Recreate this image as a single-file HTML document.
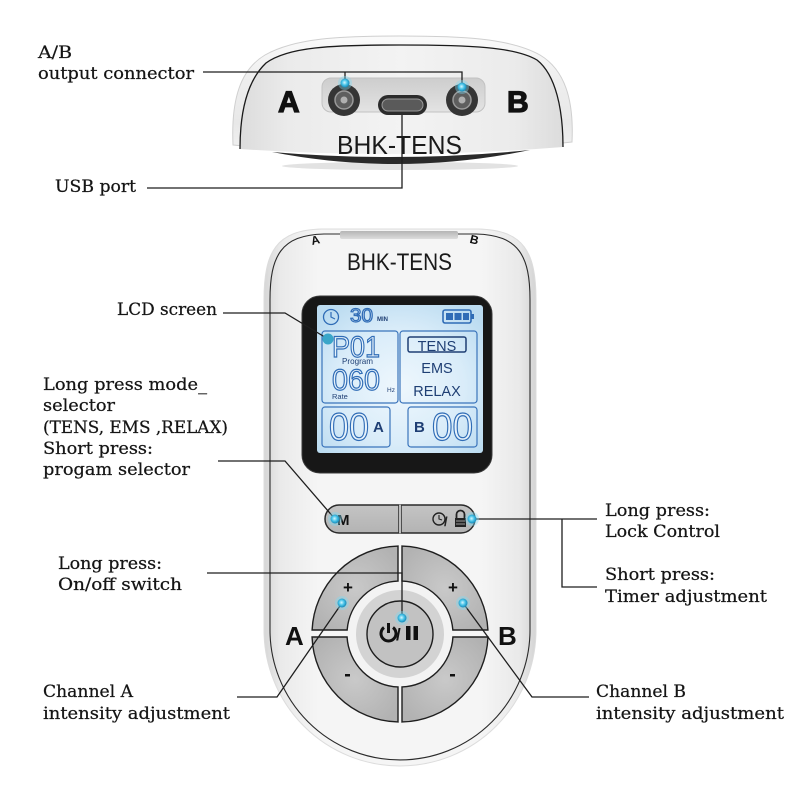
<!DOCTYPE html>
<html><head><meta charset="utf-8"><style>
html,body{margin:0;padding:0;background:#fff;}
svg{display:block;}
.lb{font-family:"DejaVu Serif","Liberation Serif",serif;font-size:17px;fill:#151515;stroke:#151515;stroke-width:0.25;}
.ln{fill:none;stroke:#1e1e1e;stroke-width:1.3;}
.lcd{font-family:"Liberation Sans",sans-serif;fill:#e6f2fb;stroke:#2f6cb6;stroke-width:1.2;}
.lt{font-family:"Liberation Sans",sans-serif;fill:#1f3f74;}
</style></head><body>
<svg width="800" height="800" viewBox="0 0 800 800" xmlns="http://www.w3.org/2000/svg">
<defs>
<linearGradient id="topg" x1="0" y1="0" x2="0" y2="1"><stop offset="0" stop-color="#fbfbfb"/><stop offset="0.35" stop-color="#efefef"/><stop offset="0.75" stop-color="#e8e8e8"/><stop offset="1" stop-color="#f2f2f2"/></linearGradient>
<linearGradient id="faceg" x1="0" y1="0" x2="1" y2="0"><stop offset="0" stop-color="#dcdcdc"/><stop offset="0.15" stop-color="#ebebeb"/><stop offset="0.5" stop-color="#f3f3f3"/><stop offset="0.85" stop-color="#ebebeb"/><stop offset="1" stop-color="#dcdcdc"/></linearGradient>
<linearGradient id="recg" x1="0" y1="0" x2="0" y2="1"><stop offset="0" stop-color="#cdcdcd"/><stop offset="1" stop-color="#e3e3e3"/></linearGradient>
<linearGradient id="bodyg" x1="0" y1="0" x2="1" y2="0"><stop offset="0" stop-color="#d6d6d6"/><stop offset="0.06" stop-color="#eaeaea"/><stop offset="0.2" stop-color="#f5f5f5"/><stop offset="0.8" stop-color="#f5f5f5"/><stop offset="0.94" stop-color="#e9e9e9"/><stop offset="1" stop-color="#d4d4d4"/></linearGradient>
<linearGradient id="slotg" x1="0" y1="0" x2="0" y2="1"><stop offset="0" stop-color="#b5b5b5"/><stop offset="1" stop-color="#dcdcdc"/></linearGradient>
<radialGradient id="scr" cx="0.5" cy="0.55" r="0.65"><stop offset="0" stop-color="#eef7fd"/><stop offset="0.6" stop-color="#d9ecf9"/><stop offset="1" stop-color="#bcdcf1"/></radialGradient>
<linearGradient id="btng" x1="0" y1="0" x2="0" y2="1"><stop offset="0" stop-color="#c4c4c4"/><stop offset="1" stop-color="#b3b3b3"/></linearGradient>
<radialGradient id="quadg" cx="0.5" cy="0.5" r="0.6"><stop offset="0" stop-color="#c9c9c9"/><stop offset="1" stop-color="#b2b2b2"/></radialGradient>
<radialGradient id="dotg" cx="0.45" cy="0.45" r="0.55"><stop offset="0" stop-color="#d8f7ff"/><stop offset="0.5" stop-color="#4cc6ea"/><stop offset="1" stop-color="#1589b8"/></radialGradient>
</defs>
<rect width="800" height="800" fill="#fff"/>

<!-- ===== TOP DEVICE (end view) ===== -->
<ellipse cx="400" cy="166" rx="118" ry="4" fill="#e2e2e2"/>
<path d="M 272,152 Q 400,177 530,150 Q 400,163 272,152 Z" fill="#2a2a2a"/>
<path d="M 233,145 C 231,100 240,70 265,55 C 295,38 340,36 400,36 C 460,36 510,38 540,55 C 565,70 574,100 572,142 Q 402,162 233,145 Z" fill="url(#topg)" stroke="#cfcfcf" stroke-width="1"/>
<path d="M 240,149 C 240,110 248,80 266,63 C 288,47 330,45 400,45 C 470,45 515,47 537,60 C 556,75 563,110 563,147 Q 402,160 240,149 Z" fill="url(#faceg)"/>
<path d="M 240,149 C 240,110 248,80 266,63 C 288,47 330,45 400,45 C 470,45 515,47 537,60 C 556,75 563,110 563,147" fill="none" stroke="#1a1a1a" stroke-width="1.3"/>
<rect x="322" y="78" width="163" height="34" rx="9" fill="url(#recg)" stroke="#c2c2c2"/>
<circle cx="344" cy="100" r="16" fill="#353535"/>
<circle cx="344" cy="100" r="9" fill="#5e5e5e" stroke="#9a9a9a" stroke-width="1.5"/>
<circle cx="344" cy="100" r="3.5" fill="#b0b0b0"/>
<circle cx="462" cy="100" r="16" fill="#353535"/>
<circle cx="462" cy="100" r="9" fill="#5e5e5e" stroke="#9a9a9a" stroke-width="1.5"/>
<circle cx="462" cy="100" r="3.5" fill="#b0b0b0"/>
<rect x="378" y="95" width="49" height="20" rx="10" fill="#2c2c2c"/>
<rect x="382" y="99" width="41" height="12" rx="6" fill="#5a5a5a" stroke="#9b9b9b" stroke-width="1"/>
<text x="278" y="112" font-family="Liberation Sans,sans-serif" font-weight="bold" font-size="30" fill="#111" stroke="#111" stroke-width="1.2">A</text>
<text x="507" y="112" font-family="Liberation Sans,sans-serif" font-weight="bold" font-size="30" fill="#111" stroke="#111" stroke-width="1.2">B</text>
<text x="337" y="154" font-family="Liberation Sans,sans-serif" font-size="26" fill="#1a1a1a" textLength="125" lengthAdjust="spacingAndGlyphs">BHK-TENS</text>

<!-- ===== MAIN BODY ===== -->
<path d="M 264,300 C 264,252 276,230 322,229 L 478,229 C 524,230 536,252 536,300 L 536,630 A 136,136 0 0 1 264,630 Z" fill="url(#bodyg)" stroke="#dcdcdc" stroke-width="1"/>
<path d="M 270,300 C 270,256 281,235 324,234 L 476,234 C 519,235 530,256 530,300 L 530,630 A 130,130 0 0 1 270,630 Z" fill="none" stroke="#2a2a2a" stroke-width="1.1"/>
<rect x="340" y="231" width="118" height="8" rx="2" fill="url(#slotg)"/>
<text x="311" y="244" font-family="Liberation Sans,sans-serif" font-weight="bold" font-size="12" fill="#111" transform="rotate(-14 316 240)">A</text>
<text x="470" y="244" font-family="Liberation Sans,sans-serif" font-weight="bold" font-size="12" fill="#111" transform="rotate(14 475 240)">B</text>
<text x="347" y="270" font-family="Liberation Sans,sans-serif" font-size="24" fill="#1a1a1a" textLength="105" lengthAdjust="spacingAndGlyphs">BHK-TENS</text>

<!-- LCD -->
<rect x="302" y="296" width="190" height="177" rx="18" fill="#171717" stroke="#3a3a3a" stroke-width="1"/>
<rect x="317" y="305" width="166" height="148" rx="3" fill="url(#scr)"/>
<circle cx="331" cy="317" r="7.5" fill="none" stroke="#2f6cb6" stroke-width="1.3"/>
<path d="M331,312 L331,317 L335,319" fill="none" stroke="#2f6cb6" stroke-width="1.2"/>
<text x="350" y="322" class="lcd" font-size="19" textLength="23" lengthAdjust="spacingAndGlyphs">30</text>
<text x="377" y="321" class="lt" font-size="6" font-weight="bold" fill="#2f6cb6">MIN</text>
<rect x="443" y="310" width="28" height="13" rx="2" fill="none" stroke="#2f6cb6" stroke-width="1.6"/>
<rect x="471" y="314" width="3" height="5" fill="#2f6cb6"/>
<rect x="446" y="313" width="7" height="7" fill="#2f6cb6"/>
<rect x="454.5" y="313" width="7" height="7" fill="#2f6cb6"/>
<rect x="463" y="313" width="6" height="7" fill="#2f6cb6"/>
<rect x="322" y="331" width="76" height="72" rx="3" fill="none" stroke="#3a74bb" stroke-width="1.2"/>
<rect x="400" y="331" width="77" height="72" rx="3" fill="none" stroke="#3a74bb" stroke-width="1.2"/>
<rect x="322" y="407" width="68" height="40" rx="3" fill="none" stroke="#3a74bb" stroke-width="1.2"/>
<rect x="408" y="407" width="69" height="40" rx="3" fill="none" stroke="#3a74bb" stroke-width="1.2"/>
<text x="332" y="357" class="lcd" font-size="30" textLength="48" lengthAdjust="spacingAndGlyphs">P01</text>
<text x="342" y="364" class="lt" font-size="8.5" fill="#2f6cb6" textLength="31" lengthAdjust="spacingAndGlyphs">Program</text>
<text x="332" y="390" class="lcd" font-size="30" textLength="48" lengthAdjust="spacingAndGlyphs">060</text>
<text x="387" y="392" class="lt" font-size="6.5" fill="#2f6cb6">Hz</text>
<text x="332" y="399" class="lt" font-size="7.5" fill="#2f6cb6">Rate</text>
<rect x="408" y="337" width="58" height="15" rx="2" fill="none" stroke="#1f3f74" stroke-width="1.5"/>
<text x="437" y="351" class="lt" font-size="14.5" text-anchor="middle">TENS</text>
<text x="437" y="373" class="lt" font-size="14.5" text-anchor="middle">EMS</text>
<text x="437" y="396" class="lt" font-size="14.5" text-anchor="middle">RELAX</text>
<text x="329" y="440" class="lcd" font-size="39" textLength="40" lengthAdjust="spacingAndGlyphs">00</text>
<text x="373" y="432" class="lt" font-size="15" font-weight="bold" fill="#2f6cb6">A</text>
<text x="414" y="432" class="lt" font-size="15" font-weight="bold" fill="#2f6cb6">B</text>
<text x="432" y="440" class="lcd" font-size="39" textLength="41" lengthAdjust="spacingAndGlyphs">00</text>

<!-- M / lock pill -->
<path d="M 339,505 L 399,505 L 399,533 L 339,533 A 14,14 0 0 1 339,505 Z" fill="url(#btng)" stroke="#2a2a2a" stroke-width="1.5"/>
<path d="M 401,505 L 461,505 A 14,14 0 0 1 461,533 L 401,533 Z" fill="url(#btng)" stroke="#2a2a2a" stroke-width="1.5"/>
<line x1="400" y1="505" x2="400" y2="533" stroke="#eeeeee" stroke-width="1.5"/>
<text x="337" y="525" font-family="Liberation Sans,sans-serif" font-weight="bold" font-size="15" fill="#111">M</text>
<circle cx="439" cy="519" r="6" fill="none" stroke="#222" stroke-width="1.4"/>
<path d="M439,515 L439,519 L442,520" fill="none" stroke="#222" stroke-width="1.1"/>
<text x="444" y="526" font-family="Liberation Sans,sans-serif" font-weight="bold" font-size="13" fill="#222">/</text>
<path d="M456.5,518 L456.5,514.5 A4,4 0 0 1 464.5,514.5 L464.5,518" fill="none" stroke="#222" stroke-width="1.8"/>
<rect x="455" y="518" width="11" height="9" fill="#222"/>
<line x1="456" y1="521" x2="465" y2="521" stroke="#bbb" stroke-width="0.8"/>
<line x1="456" y1="524" x2="465" y2="524" stroke="#bbb" stroke-width="0.8"/>

<!-- D-pad -->
<circle cx="400" cy="634" r="54" fill="#f3f3f3"/>
<path d="M 312.1,630 A 88 88 0 0 1 398,546.02 L 398,581.04 A 53 53 0 0 0 347.15,630 Z" fill="url(#quadg)" stroke="#1e1e1e" stroke-width="1.4"/>
<path d="M 402,546.02 A 88 88 0 0 1 487.9,630 L 452.85,630 A 53 53 0 0 0 402,581.04 Z" fill="url(#quadg)" stroke="#1e1e1e" stroke-width="1.4"/>
<path d="M 312.05,637 L 347.08,637 A 53 53 0 0 0 398,686.96 L 398,721.98 A 88 88 0 0 1 312.05,637 Z" fill="url(#quadg)" stroke="#1e1e1e" stroke-width="1.4"/>
<path d="M 402,686.96 A 53 53 0 0 0 452.92,637 L 487.95,637 A 88 88 0 0 1 402,721.98 Z" fill="url(#quadg)" stroke="#1e1e1e" stroke-width="1.4"/>
<circle cx="400" cy="634" r="44" fill="#d3d3d3"/>
<circle cx="400" cy="634" r="33" fill="#c2c2c2" stroke="#1e1e1e" stroke-width="1.4"/>
<path d="M 384,627.5 A 7.5 7.5 0 1 0 393,627.5" fill="none" stroke="#111" stroke-width="3"/>
<line x1="388.5" y1="623" x2="388.5" y2="633" stroke="#111" stroke-width="3"/>
<text x="396" y="640" font-family="Liberation Sans,sans-serif" font-weight="bold" font-size="17" fill="#111">/</text>
<rect x="406" y="626" width="4.5" height="14" fill="#111"/>
<rect x="413.5" y="626" width="4.5" height="14" fill="#111"/>
<text x="348" y="593" text-anchor="middle" font-family="Liberation Sans,sans-serif" font-weight="bold" font-size="17" fill="#111">+</text>
<text x="453" y="593" text-anchor="middle" font-family="Liberation Sans,sans-serif" font-weight="bold" font-size="17" fill="#111">+</text>
<rect x="345" y="674" width="5" height="2.5" fill="#111"/>
<rect x="450" y="674" width="5" height="2.5" fill="#111"/>
<text x="285" y="645" font-family="Liberation Sans,sans-serif" font-weight="bold" font-size="26" fill="#111">A</text>
<text x="498" y="645" font-family="Liberation Sans,sans-serif" font-weight="bold" font-size="26" fill="#111">B</text>

<!-- ===== CONNECTOR LINES ===== -->
<polyline class="ln" points="203,72 462,72 462,87"/>
<line class="ln" x1="345" y1="72" x2="345" y2="83"/>
<polyline class="ln" points="402,115 402,188 147,188"/>
<polyline class="ln" points="223,313 285,313 328,339"/>
<polyline class="ln" points="218,461 285,461 335,519"/>
<polyline class="ln" points="472,519 597,519"/>
<polyline class="ln" points="562,519 562,587 597,587"/>
<polyline class="ln" points="207,573 402,573 402,618"/>
<polyline class="ln" points="237,697 277,697 342,603"/>
<polyline class="ln" points="463,603 532,697 589,697"/>

<!-- dots -->
<g>
<circle cx="345" cy="83" r="7" fill="#7fd9f3" opacity="0.4"/><circle cx="345" cy="83" r="4.5" fill="url(#dotg)"/>
<circle cx="462" cy="87" r="7" fill="#7fd9f3" opacity="0.4"/><circle cx="462" cy="87" r="4.5" fill="url(#dotg)"/>
<circle cx="328" cy="339" r="5.5" fill="#3aa6c9"/>
<circle cx="335" cy="519" r="7" fill="#7fd9f3" opacity="0.4"/><circle cx="335" cy="519" r="4.5" fill="url(#dotg)"/>
<circle cx="472" cy="519" r="7" fill="#7fd9f3" opacity="0.4"/><circle cx="472" cy="519" r="4.5" fill="url(#dotg)"/>
<circle cx="402" cy="618" r="7" fill="#7fd9f3" opacity="0.4"/><circle cx="402" cy="618" r="4.5" fill="url(#dotg)"/>
<circle cx="342" cy="603" r="7" fill="#7fd9f3" opacity="0.4"/><circle cx="342" cy="603" r="4.5" fill="url(#dotg)"/>
<circle cx="463" cy="603" r="7" fill="#7fd9f3" opacity="0.4"/><circle cx="463" cy="603" r="4.5" fill="url(#dotg)"/>
</g>

<!-- ===== LABELS ===== -->
<text class="lb" x="38" y="58" textLength="34" lengthAdjust="spacingAndGlyphs">A/B</text>
<text class="lb" x="38" y="79" textLength="156" lengthAdjust="spacingAndGlyphs">output connector</text>
<text class="lb" x="55" y="192" textLength="81" lengthAdjust="spacingAndGlyphs">USB port</text>
<text class="lb" x="117" y="315" textLength="100" lengthAdjust="spacingAndGlyphs">LCD screen</text>
<text class="lb" x="43" y="390" textLength="164" lengthAdjust="spacingAndGlyphs">Long press mode_</text>
<text class="lb" x="43" y="411" textLength="72" lengthAdjust="spacingAndGlyphs">selector</text>
<text class="lb" x="43" y="433" textLength="185" lengthAdjust="spacingAndGlyphs">(TENS, EMS ,RELAX)</text>
<text class="lb" x="43" y="454" textLength="110" lengthAdjust="spacingAndGlyphs">Short press:</text>
<text class="lb" x="43" y="475" textLength="147" lengthAdjust="spacingAndGlyphs">progam selector</text>
<text class="lb" x="58" y="569" textLength="104" lengthAdjust="spacingAndGlyphs">Long press:</text>
<text class="lb" x="58" y="590" textLength="124" lengthAdjust="spacingAndGlyphs">On/off switch</text>
<text class="lb" x="43" y="697" textLength="90" lengthAdjust="spacingAndGlyphs">Channel A</text>
<text class="lb" x="43" y="719" textLength="187" lengthAdjust="spacingAndGlyphs">intensity adjustment</text>
<text class="lb" x="605" y="516" textLength="105" lengthAdjust="spacingAndGlyphs">Long press:</text>
<text class="lb" x="605" y="537" textLength="115" lengthAdjust="spacingAndGlyphs">Lock Control</text>
<text class="lb" x="605" y="580" textLength="110" lengthAdjust="spacingAndGlyphs">Short press:</text>
<text class="lb" x="605" y="602" textLength="162" lengthAdjust="spacingAndGlyphs">Timer adjustment</text>
<text class="lb" x="596" y="697" textLength="90" lengthAdjust="spacingAndGlyphs">Channel B</text>
<text class="lb" x="596" y="719" textLength="188" lengthAdjust="spacingAndGlyphs">intensity adjustment</text>
</svg>
</body></html>
